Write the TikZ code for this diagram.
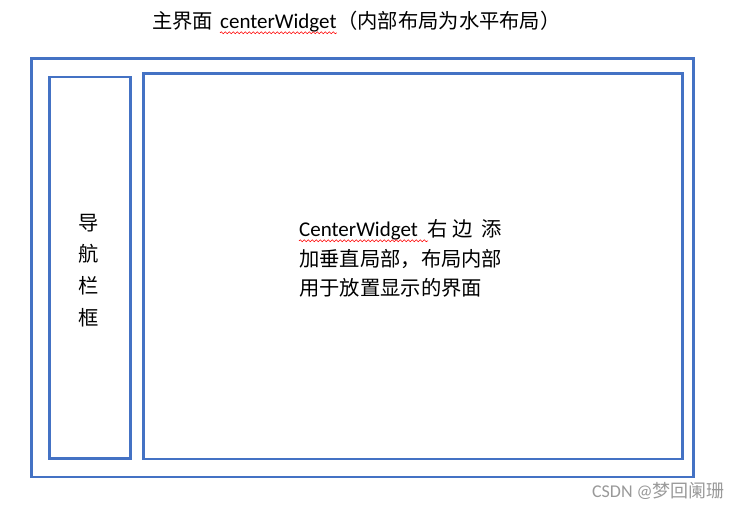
\documentclass[tikz,border=0pt]{standalone}
\usepackage{fontspec}
\setmainfont{Carlito}
\newfontfamily\cjk{Noto Sans CJK SC}
\usetikzlibrary{decorations.pathmorphing}
\definecolor{boxblue}{HTML}{4472C4}
\tikzset{
  box/.style={draw=boxblue, line width=2.5pt, inner sep=0pt, anchor=north west},
  txt/.style={inner sep=0pt, font=\fontsize{20.3}{24}\selectfont, text=black},
  lat/.style={inner sep=0pt, font=\fontsize{21}{24}\selectfont, text=black},
  spell/.style={draw=red, line width=0.6pt, decorate, decoration={snake, segment length=4pt, amplitude=1pt}},
  wmark/.style={inner sep=0pt, font=\fontsize{18}{20}\selectfont, text=black!40}
}
\begin{document}
\begin{tikzpicture}[x=1pt,y=-1pt]
\useasboundingbox (0,0) rectangle (740,508);
% boxes
\node[box, minimum width=662pt, minimum height=418pt] (outer) at (30,57.5) {};
\node[box, minimum width=81pt, minimum height=381pt] (nav) at (48,76) {};
\node[box, minimum width=539pt, minimum height=385pt] (main) at (142,72.5) {};
% title
\node[txt, anchor=base west] (t1) at (152,28.5) {\cjk 主界面};
\node[lat, anchor=base west] (t2) at (220,28.5) {centerWidget};
\node[txt, anchor=base west] (t3) at (337,28.5) {\cjk （内部布局为水平布局）};
\coordinate (u1a) at (t2.south west);
\coordinate (u1b) at (t2.south east);
\draw[spell] ([yshift=-0.5pt]u1a) -- ([yshift=-0.5pt]u1b);
% navigation text
\node[txt] (n1) at (89,223) {\cjk 导};
\node[txt] (n2) at (89,254) {\cjk 航};
\node[txt] (n3) at (89,286) {\cjk 栏};
\node[txt] (n4) at (89,318) {\cjk 框};
% main text
\node[lat, anchor=base west] (m1) at (299,236.5) {CenterWidget};
\node[txt, anchor=base] (m1a) at (438,236.5) {\cjk 右};
\node[txt, anchor=base] (m1b) at (463,236.5) {\cjk 边};
\node[txt, anchor=base] (m1c) at (492,236.5) {\cjk 添};
\draw[spell] ([yshift=-0.5pt]m1.south west) -- ([xshift=10pt,yshift=-0.5pt]m1.south east);
\node[txt, anchor=base west] (m2) at (299,266) {\cjk 加垂直局部，布局内部};
\node[txt, anchor=base west] (m3) at (299,295.5) {\cjk 用于放置显示的界面};
% watermark
\node[wmark, anchor=base east] (wm) at (725,497) {CSDN @{\cjk 梦回阑珊}};
\end{tikzpicture}
\end{document}
